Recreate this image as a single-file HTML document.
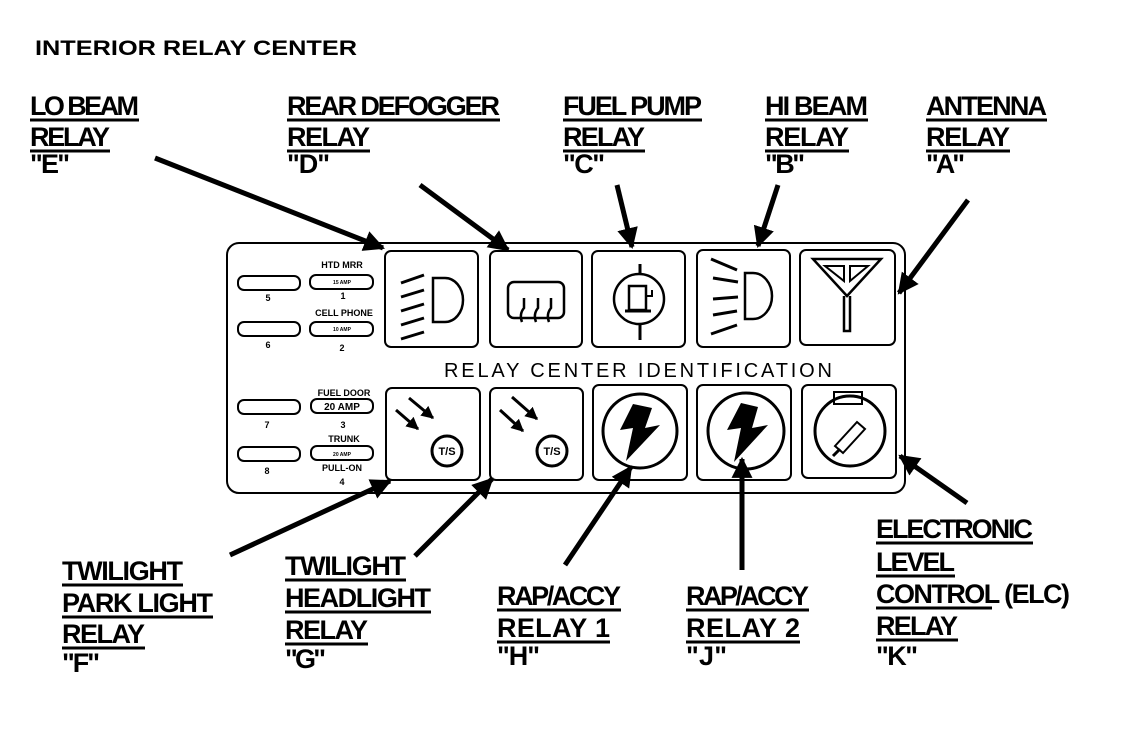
<!DOCTYPE html>
<html><head><meta charset="utf-8"><style>
html,body{margin:0;padding:0;background:#fff;width:1136px;height:740px;overflow:hidden}
svg text{font-family:"Liberation Sans",sans-serif;font-weight:bold;fill:#000}
</style></head><body>
<svg width="1136" height="740" viewBox="0 0 1136 740" xmlns="http://www.w3.org/2000/svg">
<defs>
<marker id="ah" viewBox="0 0 10 10" refX="9" refY="5" markerWidth="4.2" markerHeight="4.2" orient="auto" markerUnits="strokeWidth">
<path d="M0,0 L10,5 L0,10 z" fill="#000"/></marker>
</defs>
<text x="35" y="55" font-size="21" textLength="322" lengthAdjust="spacingAndGlyphs">INTERIOR RELAY CENTER</text>

<g font-size="27" lengthAdjust="spacingAndGlyphs">
<text x="30" y="115" textLength="109">LO BEAM</text>
<text x="30" y="146" textLength="80">RELAY</text>
<text x="30" y="173" textLength="40">"E"</text>
<text x="287" y="115" textLength="213">REAR DEFOGGER</text>
<text x="287" y="146" textLength="83">RELAY</text>
<text x="287" y="173" textLength="43">"D"</text>
<text x="563" y="115" textLength="139">FUEL PUMP</text>
<text x="563" y="146" textLength="82">RELAY</text>
<text x="563" y="173" textLength="42">"C"</text>
<text x="765" y="115" textLength="103">HI BEAM</text>
<text x="765" y="146" textLength="84">RELAY</text>
<text x="765" y="173" textLength="40">"B"</text>
<text x="926" y="115" textLength="121">ANTENNA</text>
<text x="926" y="146" textLength="84">RELAY</text>
<text x="926" y="173" textLength="39">"A"</text>

<text x="62" y="580" textLength="121">TWILIGHT</text>
<text x="62" y="612" textLength="151">PARK LIGHT</text>
<text x="62" y="643" textLength="83">RELAY</text>
<text x="62" y="672" textLength="38">"F"</text>
<text x="285" y="575" textLength="121">TWILIGHT</text>
<text x="285" y="607" textLength="146">HEADLIGHT</text>
<text x="285" y="639" textLength="83">RELAY</text>
<text x="285" y="668" textLength="41">"G"</text>
<text x="497" y="605" textLength="124">RAP/ACCY</text>
<text x="497" y="637" textLength="113">RELAY 1</text>
<text x="497" y="665" textLength="43">"H"</text>
<text x="686" y="605" textLength="123">RAP/ACCY</text>
<text x="686" y="637" textLength="114">RELAY 2</text>
<text x="686" y="665" textLength="41">"J"</text>
<text x="876" y="538" textLength="157">ELECTRONIC</text>
<text x="876" y="571" textLength="79">LEVEL</text>
<text x="876" y="603" textLength="194">CONTROL (ELC)</text>
<text x="876" y="635" textLength="82">RELAY</text>
<text x="876" y="665" textLength="42">"K"</text>
</g>
<g stroke="#000" stroke-width="3">
<line x1="30" y1="120" x2="139" y2="120"/><line x1="30" y1="151" x2="110" y2="151"/>
<line x1="287" y1="120" x2="500" y2="120"/><line x1="287" y1="151" x2="370" y2="151"/>
<line x1="563" y1="120" x2="702" y2="120"/><line x1="563" y1="151" x2="645" y2="151"/>
<line x1="765" y1="120" x2="868" y2="120"/><line x1="765" y1="151" x2="849" y2="151"/>
<line x1="926" y1="120" x2="1047" y2="120"/><line x1="926" y1="151" x2="1010" y2="151"/>
<line x1="62" y1="585" x2="183" y2="585"/><line x1="62" y1="617" x2="213" y2="617"/><line x1="62" y1="648" x2="145" y2="648"/>
<line x1="285" y1="580" x2="406" y2="580"/><line x1="285" y1="612" x2="431" y2="612"/><line x1="285" y1="644" x2="368" y2="644"/>
<line x1="497" y1="610" x2="621" y2="610"/><line x1="497" y1="642" x2="610" y2="642"/>
<line x1="686" y1="610" x2="809" y2="610"/><line x1="686" y1="642" x2="800" y2="642"/>
<line x1="876" y1="543" x2="1033" y2="543"/><line x1="876" y1="576" x2="955" y2="576"/><line x1="876" y1="608" x2="992" y2="608"/><line x1="876" y1="640" x2="958" y2="640"/>
</g>

<!-- panel -->
<rect x="227" y="243" width="678" height="250" rx="12" fill="none" stroke="#000" stroke-width="2"/>
<g fill="none" stroke="#000" stroke-width="2">
<rect x="385" y="251" width="93" height="96" rx="6"/>
<rect x="490" y="251" width="92" height="96" rx="6"/>
<rect x="592" y="251" width="93" height="96" rx="6"/>
<rect x="697" y="250" width="93" height="97" rx="6"/>
<rect x="800" y="250" width="95" height="95" rx="6"/>
<rect x="386" y="388" width="94" height="92" rx="6"/>
<rect x="490" y="388" width="93" height="92" rx="6"/>
<rect x="593" y="385" width="94" height="95" rx="6"/>
<rect x="697" y="385" width="94" height="95" rx="6"/>
<rect x="802" y="385" width="94" height="93" rx="6"/>
<!-- fuses -->
<rect x="238" y="276" width="62" height="14" rx="6"/><rect x="310" y="275" width="63" height="14" rx="6"/>
<rect x="238" y="322" width="62" height="14" rx="6"/><rect x="310" y="322" width="63" height="14" rx="6"/>
<rect x="238" y="400" width="62" height="14" rx="6"/><rect x="311" y="399" width="62" height="14" rx="6"/>
<rect x="238" y="447" width="62" height="14" rx="6"/><rect x="311" y="446" width="62" height="14" rx="6"/>
</g>
<g font-size="9" text-anchor="middle">
<text x="342" y="268">HTD MRR</text><text x="342" y="284" font-size="5">15 AMP</text>
<text x="268" y="301">5</text><text x="343" y="299">1</text>
<text x="344" y="316">CELL PHONE</text><text x="342" y="331" font-size="5">10 AMP</text>
<text x="268" y="348">6</text><text x="342" y="351">2</text>
<text x="344" y="396">FUEL DOOR</text><text x="342" y="410" font-size="10">20 AMP</text>
<text x="267" y="428">7</text><text x="343" y="428">3</text>
<text x="344" y="442">TRUNK</text><text x="342" y="456" font-size="5">20 AMP</text>
<text x="267" y="474">8</text><text x="342" y="471">PULL-ON</text><text x="342" y="485">4</text>
</g>
<text x="638" y="377" font-size="20" font-weight="normal" text-anchor="middle" textLength="388" lengthAdjust="spacing" style="font-weight:normal">RELAY CENTER IDENTIFICATION</text>

<!-- icons -->
<g stroke="#000" stroke-width="3" fill="none">
<!-- lo beam -->
<line x1="401" y1="283" x2="424" y2="275"/><line x1="401" y1="297" x2="424" y2="290"/><line x1="401" y1="311" x2="424" y2="304"/><line x1="401" y1="325" x2="424" y2="318"/><line x1="401" y1="339" x2="424" y2="332"/>
<path d="M433,278 L445,278 A18,22 0 0 1 445,322 L433,322 Z" stroke-width="2.5"/>
<!-- defogger -->
<rect x="508" y="282" width="56" height="36" rx="6" stroke-width="2.5"/>
<path d="M522,322 q-3,-8 2,-14 v-10 M536,322 q-3,-8 2,-14 v-10 M549,322 q-3,-8 2,-14 v-10" stroke-width="2.5"/>
<!-- fuel -->
<circle cx="639" cy="299" r="25" stroke-width="2.5"/>
<rect x="629" y="286" width="17" height="24" stroke-width="2.5"/><line x1="625" y1="311" x2="651" y2="311"/>
<path d="M646,296 h6 v-6" stroke-width="2"/>
<line x1="640" y1="324" x2="640" y2="340"/><line x1="640" y1="264" x2="640" y2="274"/>
<!-- hi beam -->
<line x1="711" y1="259" x2="737" y2="270"/><line x1="713" y1="278" x2="738" y2="282"/><line x1="713" y1="299" x2="738" y2="297"/><line x1="713" y1="315" x2="737" y2="311"/><line x1="711" y1="334" x2="737" y2="325"/>
<path d="M745,273 L753,273 A19,23 0 0 1 753,319 L745,319 Z" stroke-width="2.5"/>
<!-- antenna -->
<path d="M813,259 L881,259 L847,296 Z" stroke-width="2.5"/>
<path d="M825,266 L844,266 L844,281 Z M850,266 L868,266 L850,281 Z" stroke-width="2"/>
<path d="M844,296 v35 h6 v-35" stroke-width="2.5"/>
<!-- T/S -->
<line x1="396" y1="410" x2="418" y2="429" marker-end="url(#ah)"/>
<line x1="409" y1="398" x2="433" y2="418" marker-end="url(#ah)"/>
<circle cx="447" cy="451" r="15"/>
<line x1="500" y1="410" x2="523" y2="431" marker-end="url(#ah)"/>
<line x1="512" y1="397" x2="537" y2="419" marker-end="url(#ah)"/>
<circle cx="552" cy="451" r="15"/>
<!-- lightning -->
<circle cx="640" cy="431" r="37"/>
<circle cx="746" cy="431" r="38"/>
<circle cx="850" cy="431" r="35"/>
<rect x="834" y="392" width="28" height="12" stroke-width="2"/>
<path d="M835,446 l22,-24 l8,7 l-22,24 z" stroke-width="2"/>
<line x1="833" y1="456" x2="840" y2="449"/>
</g>
<g font-size="11" text-anchor="middle"><text x="447" y="455">T/S</text><text x="552" y="455">T/S</text></g>
<path d="M633,404 L620,430 L633,428 L626,461 L660,425 L645,428 L652,408 Z" fill="#000"/>
<path d="M741,403 L727,430 L741,428 L734,462 L768,425 L752,428 L758,407 Z" fill="#000"/>

<!-- pointer arrows -->
<g stroke="#000" stroke-width="5" marker-end="url(#ah)">
<line x1="155" y1="158" x2="383" y2="248"/>
<line x1="420" y1="185" x2="508" y2="250"/>
<line x1="617" y1="185" x2="632" y2="247"/>
<line x1="778" y1="185" x2="758" y2="246"/>
<line x1="968" y1="200" x2="899" y2="293"/>
<line x1="230" y1="555" x2="390" y2="481"/>
<line x1="415" y1="556" x2="492" y2="479"/>
<line x1="565" y1="565" x2="631" y2="467"/>
<line x1="742" y1="570" x2="742" y2="459"/>
<line x1="967" y1="503" x2="900" y2="456"/>
</g>
</svg>
</body></html>
